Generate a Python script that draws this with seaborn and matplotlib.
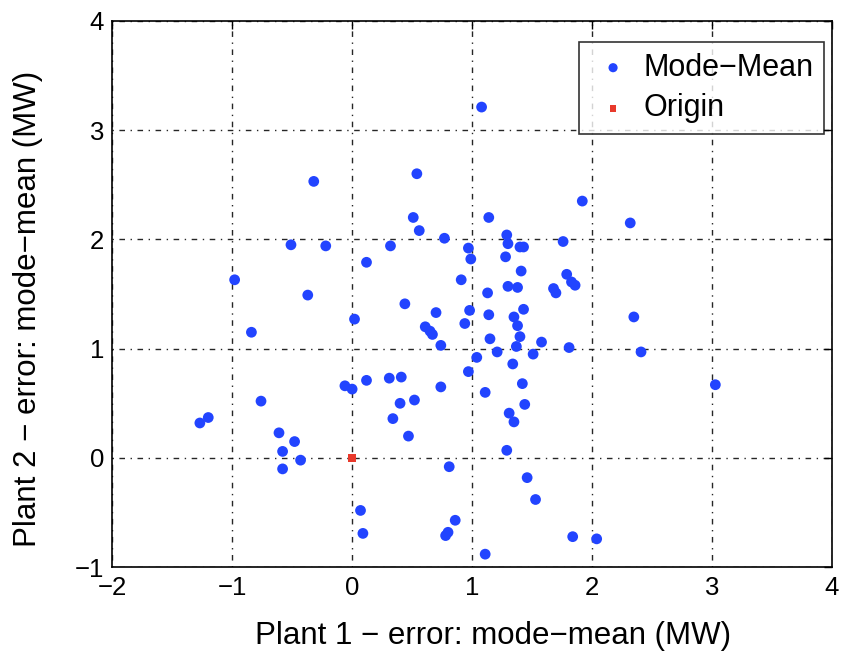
import matplotlib
matplotlib.use("Agg")
import matplotlib.pyplot as plt
import seaborn as sns
import pandas as pd

plant1 = [-0.32, 0.54, 1.08, 0.51, 0.56, 0.77, -0.51, -0.22, 0.32, 0.12,
          0.97, 0.99, 0.91, -0.98, -0.37, 1.92, 2.32, 1.14, 1.29, 1.30,
          1.40, 1.43, 1.76, 1.28, 1.41, 1.79, 1.83, 1.86, 1.13, 1.30,
          1.38, 1.68, 1.70, 0.44, 0.70, 0.98, 0.02, 0.61, 0.65, 0.67,
          0.94, -0.84, 0.74, 1.04, 0.97, -0.06, 0.00, 0.12, 0.31, 0.41,
          0.74, -0.76, 0.52, 0.40, 0.34, -1.27, -1.20, 0.47, -0.61, -0.48,
          -0.58, -0.43, -0.58, 0.81, 0.07, 0.09, 0.86, 0.78, 0.80, 1.14,
          1.43, 1.35, 1.38, 2.35, 1.15, 1.40, 1.37, 1.58, 1.81, 1.21,
          1.51, 2.41, 1.34, 1.42, 1.11, 3.03, 1.44, 1.31, 1.35, 1.29,
          1.46, 1.53, 1.84, 2.04, 1.11]
plant2 = [2.53, 2.60, 3.21, 2.20, 2.08, 2.01, 1.95, 1.94, 1.94, 1.79,
          1.92, 1.82, 1.63, 1.63, 1.49, 2.35, 2.15, 2.20, 2.04, 1.96,
          1.93, 1.93, 1.98, 1.84, 1.71, 1.68, 1.61, 1.58, 1.51, 1.57,
          1.56, 1.55, 1.51, 1.41, 1.33, 1.35, 1.27, 1.20, 1.16, 1.13,
          1.23, 1.15, 1.03, 0.92, 0.79, 0.66, 0.63, 0.71, 0.73, 0.74,
          0.65, 0.52, 0.53, 0.50, 0.36, 0.32, 0.37, 0.20, 0.23, 0.15,
          0.06, -0.02, -0.10, -0.08, -0.48, -0.69, -0.57, -0.71, -0.68, 1.31,
          1.36, 1.29, 1.21, 1.29, 1.09, 1.11, 1.02, 1.06, 1.01, 0.97,
          0.95, 0.97, 0.86, 0.68, 0.60, 0.67, 0.49, 0.41, 0.33, 0.07,
          -0.18, -0.38, -0.72, -0.74, -0.88]
origin_x = [0.0]
origin_y = [0.0]

x_ticks = [-2, -1, 0, 1, 2, 3, 4]
y_ticks = [-1, 0, 1, 2, 3, 4]

sns.set_style("white")
plt.rcParams['font.family'] = ['Liberation Sans', 'DejaVu Sans']
plt.rcParams['axes.unicode_minus'] = True
plt.rcParams['text.color'] = 'black'
plt.rcParams['axes.labelcolor'] = 'black'
plt.rcParams['xtick.color'] = 'black'
plt.rcParams['ytick.color'] = 'black'

fig = plt.figure(figsize=(8.48, 6.51), dpi=100)
ax = fig.add_axes([0.1325, 0.1286, 0.8482, 0.8396])

df = pd.DataFrame({"x": plant1, "y": plant2})
sns.scatterplot(data=df, x="x", y="y", ax=ax, color="#2244ff", s=60,
                edgecolor="none", label="Mode\u2212Mean", zorder=3)
sns.scatterplot(x=origin_x, y=origin_y, ax=ax, color="#e8392b", marker="s",
                s=30, edgecolor="none", label="Origin", zorder=4)

ax.set_xlim(-2, 4)
ax.set_ylim(-1, 4)
ax.set_xticks(x_ticks)
ax.set_yticks(y_ticks)
ax.set_xticklabels([str(t).replace("-", "\u2212") for t in x_ticks])
ax.set_yticklabels([str(t).replace("-", "\u2212") for t in y_ticks])
ax.tick_params(direction="in", length=6, width=1.0, labelsize=18.5,
               top=True, right=True, color="black", labelcolor="black", pad=6)
ax.grid(True, linestyle=(0, (1, 4, 4, 4)), color="black", linewidth=1.0, alpha=0.85)
ax.set_axisbelow(True)
for sp in ax.spines.values():
    sp.set_color("black")
    sp.set_linewidth(1.2)

ax.set_xlabel("Plant 1 \u2212 error: mode\u2212mean (MW)", fontsize=22.5)
ax.set_ylabel("Plant 2 \u2212 error: mode\u2212mean (MW)", fontsize=22.5)
ax.xaxis.set_label_coords(0.529, -0.099)
ax.yaxis.set_label_coords(-0.097, 0.4726)

leg = ax.legend(loc="upper right", fontsize=22, frameon=True, fancybox=False,
                edgecolor="black", borderpad=0.35, handletextpad=0.25,
                handlelength=1.5, labelspacing=0.35,
                bbox_to_anchor=(0.990, 0.961), borderaxespad=0.0, markerscale=0.85)
leg.get_frame().set_linewidth(1.2)

fig.savefig("out.png", dpi=100)
